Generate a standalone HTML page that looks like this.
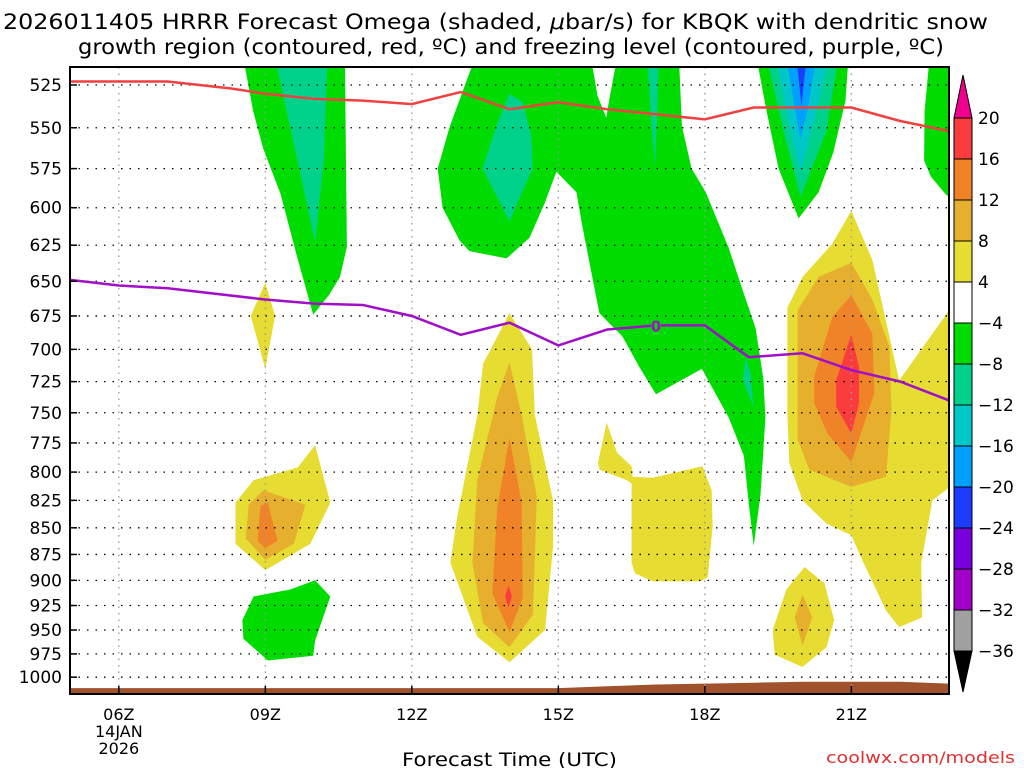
<!DOCTYPE html>
<html><head><meta charset="utf-8"><style>
html,body{margin:0;padding:0;background:#fff;}
svg{display:block;font-family:"DejaVu Sans","Liberation Sans",sans-serif;}
</style></head><body>
<svg id="chart" width="1024" height="768" viewBox="0 0 1024 768" xmlns="http://www.w3.org/2000/svg">
<defs><clipPath id="plotclip"><rect x="70" y="67" width="879" height="627"/></clipPath></defs>
<text x="3" y="29" font-size="21" textLength="985" lengthAdjust="spacingAndGlyphs">2026011405 HRRR Forecast Omega (shaded, <tspan font-style="italic">μ</tspan>bar/s) for KBQK with dendritic snow</text>
<text x="78" y="54" font-size="21" textLength="866" lengthAdjust="spacingAndGlyphs">growth region (contoured, red, ºC) and freezing level (contoured, purple, ºC)</text>
<g id="shading" clip-path="url(#plotclip)"></g>
<g id="grid"></g>
<g id="lines" clip-path="url(#plotclip)"></g>
<rect x="70" y="67" width="879" height="627" fill="none" stroke="#000" stroke-width="2"/>
<g id="yaxis"></g>
<g id="xaxis"></g>
<text x="402" y="766" font-size="19" textLength="215" lengthAdjust="spacingAndGlyphs">Forecast Time (UTC)</text>
<text x="826" y="763" font-size="16" fill="#e03030" textLength="189" lengthAdjust="spacingAndGlyphs">coolwx.com/models</text>
<g id="colorbar"></g>
</svg>
<script>
const NS="http://www.w3.org/2000/svg";
// axes
const hourMin=5, hourMax=23;
const pressureTicks=[525,550,575,600,625,650,675,700,725,750,775,800,825,850,875,900,925,950,975,1000];
const timeTicks=[6,9,12,15,18,21];
const timeLabels=["06Z","09Z","12Z","15Z","18Z","21Z"];
// contour lines
const dgzHours=[5,7,8.3,9,10,11,12,13,14,15,16,17,18,19,20,21,22,23];
const dgzPressure=[523,523,527,530,533,534,536,529,539,535,539,542,545,538,538,538,546,552];
const frzHours=[5,6,7,9,10,11,12,13,14,15,16,17,18,18.9,20,21,22,23];
const frzPressure=[649,653,655,663,666,667,675,689,680,697,685,682,682,706,703,716,725,740];
// terrain surface pressure
const groundHours=[4,15,16,17,18,19,20,22,23,24];
const groundPressure=[1012,1012,1010,1008,1007,1006,1005,1005,1007,1007];
// colorbar
const cbLabels=["20","16","12","8","4","−4","−8","−12","−16","−20","−24","−28","−32","−36"];
const cbColors=["#fa3c3c","#f08228","#e6af2d","#e6dc32","#ffffff","#00dc00","#00d28c","#00c8c8","#00a0ff","#1e3cff","#7800dc","#a000c8","#a0a0a0"];
// shaded omega regions: [hour, pressure] vertices
const greenA=[[8.55,510],[8.75,540],[8.96,563],[9.31,591],[9.65,633],[9.98,674],[10.3,660],[10.53,647],[10.67,626],[10.63,510]];
const tealA=[[9.2,510],[9.65,569],[10.02,623],[10.2,569],[10.27,510]];
const greenB=[[13.29,510],[12.78,549],[12.53,575],[12.63,600],[12.98,622],[13.18,629],[13.94,634],[14.41,620],[14.72,597],[14.96,577],[15.37,590],[15.49,612],[15.69,646],[15.84,673],[16.31,690],[16.65,713],[17.0,735],[17.94,715],[18.49,754],[18.8,786],[18.9,828],[19.0,867],[19.14,820],[19.24,754],[19.2,723],[19.04,684],[18.8,659],[18.49,627],[18.02,590],[17.73,575],[17.53,549],[17.47,510],[16.2,510],[16.04,534],[15.98,544],[15.8,531],[15.67,510]];
const tealB=[[14.0,530],[14.27,535],[14.45,555],[14.47,575],[14.0,609],[13.45,575],[13.73,549]];
const tealBandTop=[[16.82,510],[17.06,510],[17.02,545],[16.98,574],[16.9,545]];
const tealBandLow=[[18.84,706],[18.94,719],[19.0,746],[18.78,723]];
const greenC=[[19.06,510],[19.27,541],[19.51,575],[19.92,607],[20.33,590],[20.63,565],[20.88,534],[20.94,510]];
const tealC=[[19.27,510],[19.61,552],[19.96,593],[20.49,552],[20.73,510]];
const cyanC=[[19.47,510],[19.7,545],[19.96,577],[20.25,545],[20.53,510]];
const lblueC=[[19.67,510],[19.85,540],[19.96,557],[20.1,540],[20.28,510]];
const blueC=[[19.88,510],[19.98,537],[20.08,510]];
const greenD=[[22.6,510],[23.2,510],[23.2,592],[22.95,592],[22.63,580],[22.49,570],[22.5,540]];
const yellowE=[[9.0,651],[9.2,675],[9.0,715],[8.7,675]];
const yellowF=[[10.02,777],[10.33,827],[9.92,865],[9.0,890],[8.39,865],[8.39,827],[8.76,807],[9.66,796]];
const goldF=[[8.96,816],[9.82,829],[9.58,865],[9.0,880],[8.6,860],[8.66,829]];
const orangeF=[[9.05,827],[9.25,862],[9.0,869],[8.84,862],[8.9,830]];
const greenG=[[10.02,900],[10.33,916],[10.02,961],[9.98,977],[9.05,982],[8.55,959],[8.53,940],[8.76,916],[9.51,909]];
const yellowH=[[14.0,673],[14.46,700],[14.52,752],[14.89,825],[14.89,868],[14.73,950],[14.0,984],[13.34,957],[12.79,883],[12.93,840],[13.34,752],[13.46,711]];
const goldH=[[14.0,710],[14.25,752],[14.56,822],[14.48,934],[14.0,968],[13.46,943],[13.24,883],[13.34,807],[13.75,737]];
const orangeH=[[14.0,771],[14.25,827],[14.27,917],[14.0,952],[13.65,913],[13.75,831]];
const redH=[[13.98,905],[14.05,916],[13.98,927],[13.91,916]];
const yellowI=[[15.99,758],[16.2,783],[16.5,795],[16.52,804],[16.93,805],[17.95,795],[18.14,816],[18.16,849],[18.06,897],[17.9,901],[16.93,901],[16.57,893],[16.5,883],[16.5,810],[16.4,807],[15.85,798],[15.81,792]];
const yellowJ=[[21.0,602],[21.43,635],[21.92,714],[21.98,724],[22.96,673],[23.2,655],[23.2,807],[22.66,825],[22.43,883],[22.45,937],[21.98,947],[21.71,930],[21.22,880],[21.0,857],[20.49,846],[20.0,825],[19.73,792],[19.69,752],[19.69,669],[20.0,647],[20.61,624]];
const goldJ=[[21.0,637],[21.43,663],[21.78,698],[21.82,748],[21.71,804],[21.0,813],[20.14,798],[19.9,772],[19.9,671],[20.33,647]];
const orangeJ=[[21.0,660],[21.43,688],[21.47,734],[21.0,791],[20.51,767],[20.24,742],[20.24,721],[20.61,676]];
const redJ=[[21.0,689],[21.16,714],[21.16,742],[21.0,767],[20.69,745],[20.69,724]];
const yellowK=[[20.04,887],[20.45,903],[20.65,940],[20.49,968],[20.0,989],[19.43,976],[19.39,950],[19.67,909]];
const goldK=[[20.0,914],[20.2,937],[20.0,966],[19.84,937]];

const X0=70,X1=949;
function xs(h){return X0+(h-hourMin)*(X1-X0)/(hourMax-hourMin);}
function ys(p){return 85+919*Math.log(p/525);}
function mk(tag,attrs,parent){const e=document.createElementNS(NS,tag);for(const k in attrs)e.setAttribute(k,attrs[k]);parent.appendChild(e);return e;}

const shading=document.getElementById('shading');
const regions=[
 [greenA,"#00dc00","omega-region-green-09z"],[tealA,"#00d28c","omega-region-teal-09z"],
 [greenB,"#00dc00","omega-region-green-14z-band"],[tealB,"#00d28c","omega-region-teal-14z"],
 [tealBandTop,"#00d28c","omega-region-teal-17z"],[tealBandLow,"#00d28c","omega-region-teal-19z"],
 [greenC,"#00dc00","omega-region-green-20z"],[tealC,"#00d28c","omega-region-teal-20z"],
 [cyanC,"#00c8c8","omega-region-cyan-20z"],[lblueC,"#00a0ff","omega-region-lightblue-20z"],
 [blueC,"#1e3cff","omega-region-blue-20z"],[greenD,"#00dc00","omega-region-green-23z"],
 [yellowE,"#e6dc32","omega-region-yellow-09z-upper"],
 [yellowF,"#e6dc32","omega-region-yellow-09z"],[goldF,"#e6af2d","omega-region-gold-09z"],[orangeF,"#f08228","omega-region-orange-09z"],
 [greenG,"#00dc00","omega-region-green-09z-low"],
 [yellowH,"#e6dc32","omega-region-yellow-14z"],[goldH,"#e6af2d","omega-region-gold-14z"],[orangeH,"#f08228","omega-region-orange-14z"],[redH,"#fa3c3c","omega-region-red-14z"],
 [yellowI,"#e6dc32","omega-region-yellow-17z"],
 [yellowJ,"#e6dc32","omega-region-yellow-21z"],[goldJ,"#e6af2d","omega-region-gold-21z"],[orangeJ,"#f08228","omega-region-orange-21z"],[redJ,"#fa3c3c","omega-region-red-21z"],
 [yellowK,"#e6dc32","omega-region-yellow-20z"],[goldK,"#e6af2d","omega-region-gold-20z"]
];
regions.forEach(r=>{
 const pts=r[0].map(v=>xs(v[0]).toFixed(1)+","+ys(v[1]).toFixed(1)).join(" ");
 const el=mk('polygon',{points:pts,fill:r[1]},shading);
 
 
});
// terrain
{
 let pts=groundHours.map((h,i)=>xs(h).toFixed(1)+","+ys(groundPressure[i]).toFixed(1));
 pts.push(xs(24)+",700",xs(4)+",700");
 const t=mk('polygon',{points:pts.join(" "),fill:"#a0522d"},shading);
 
 
}
// grid
const grid=document.getElementById('grid');
pressureTicks.forEach(p=>{
 const g=mk('line',{x1:X0,x2:X1,y1:ys(p),y2:ys(p),stroke:"#000","stroke-width":1.3,"stroke-dasharray":"1.5 7"},grid);
 
 
});
timeTicks.forEach(h=>{
 const g=mk('line',{x1:xs(h),x2:xs(h),y1:67,y2:694,stroke:"#999","stroke-width":1.3,"stroke-dasharray":"1.5 5"},grid);
 
 
});
// lines
const lines=document.getElementById('lines');
{
 const d1=dgzHours.map((h,i)=>(i?"L":"M")+xs(h).toFixed(1)+","+ys(dgzPressure[i]).toFixed(1)).join("");
 const l1=mk('path',{d:d1,fill:"none",stroke:"#f04040","stroke-width":2.5},lines);
 
 
 const d2=frzHours.map((h,i)=>(i?"L":"M")+xs(h).toFixed(1)+","+ys(frzPressure[i]).toFixed(1)).join("");
 const l2=mk('path',{d:d2,fill:"none",stroke:"#a010c8","stroke-width":2.5},lines);
 
 
 const lx=xs(17), ly=ys(frzPressure[11]);
 mk('rect',{x:lx-5,y:ly-7,width:10,height:14,fill:"#00dc00"},lines);
 const lt=mk('text',{x:lx,y:ly+6,"text-anchor":"middle","font-size":15,"font-weight":"bold",fill:"#a010c8"},lines);
 lt.textContent="0";
 
 
}
// y axis
const yaxis=document.getElementById('yaxis');
pressureTicks.forEach(p=>{
 mk('line',{x1:X0,x2:X0+7,y1:ys(p),y2:ys(p),stroke:"#000","stroke-width":1.5},yaxis);
 const t=mk('text',{x:62,y:ys(p)+6,"text-anchor":"end","font-size":17},yaxis);
 t.textContent=p;
 
 
});
// x axis
const xaxis=document.getElementById('xaxis');
timeTicks.forEach((h,i)=>{
 mk('line',{x1:xs(h),x2:xs(h),y1:694,y2:686,stroke:"#000","stroke-width":1.5},xaxis);
 const t=mk('text',{x:xs(h),y:720,"text-anchor":"middle","font-size":16},xaxis);
 t.textContent=timeLabels[i];
 
 
});
{
 const d1=mk('text',{x:xs(6),y:737,"text-anchor":"middle","font-size":16},xaxis);d1.textContent="14JAN";
 
 
 const d2=mk('text',{x:xs(6),y:754,"text-anchor":"middle","font-size":16},xaxis);d2.textContent="2026";
 
 
}
// colorbar
const cb=document.getElementById('colorbar');
const cbTop=118, cbStep=41, cbX=954, cbW=18;
cbColors.forEach((c,i)=>{
 const r=mk('rect',{x:cbX,y:cbTop+i*cbStep,width:cbW,height:cbStep,fill:c,stroke:"#000","stroke-width":1},cb);
 
 
});
{
 const t1=mk('polygon',{points:`${cbX},${cbTop} ${cbX+cbW},${cbTop} ${cbX+cbW/2},${cbTop-43}`,fill:"#f0008c",stroke:"#000","stroke-width":1},cb);
 
 
 const yb=cbTop+cbColors.length*cbStep;
 const t2=mk('polygon',{points:`${cbX},${yb} ${cbX+cbW},${yb} ${cbX+cbW/2},${yb+41}`,fill:"#000",stroke:"#000","stroke-width":1},cb);
 
 
}
cbLabels.forEach((s,i)=>{
 const t=mk('text',{x:978,y:cbTop+i*cbStep+6,"font-size":17},cb);
 t.textContent=s;
 
 
});
</script>
</body></html>
